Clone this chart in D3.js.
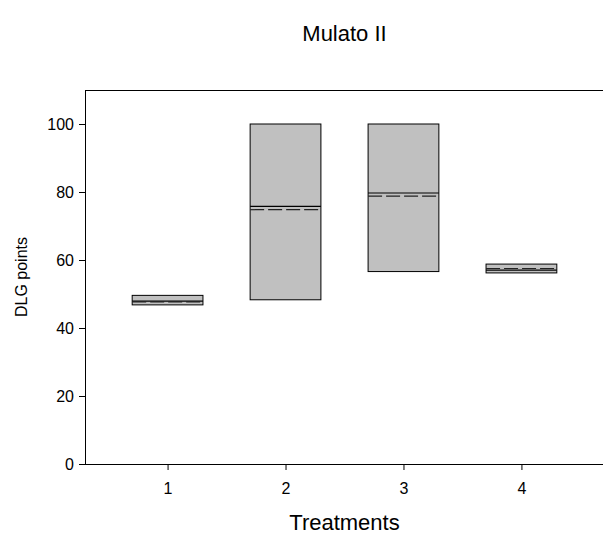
<!DOCTYPE html>
<html>
<head>
<meta charset="utf-8">
<script src="https://cdn.jsdelivr.net/npm/d3@7"></script>
<style>
  body { margin: 0; background: #fff; }
  svg { display: block; }
  text { font-family: "Liberation Sans", Arial, sans-serif; fill: #000; }
</style>
</head>
<body>
<svg id="chart" width="603" height="536"></svg>
<script>
const categories = [1, 2, 3, 4];
const q1 = [46.8, 48.3, 56.6, 56.2];
const q3 = [49.6, 100, 100, 58.8];
const medians = [47.9, 75.8, 79.7, 57.0];
const means = [47.7, 74.8, 78.8, 57.5];
const yTicks = [0, 20, 40, 60, 80, 100];
const title = "Mulato II";
const xLabel = "Treatments";
const yLabel = "DLG points";

(function () {
const svg = d3.select("#chart");
const pL = 85, pR = 604, pT = 90, pB = 464;

const x = d3.scaleLinear().domain([0.3, 4.7]).range([pL, pR]);
const y = d3.scaleLinear().domain([0, 110]).range([pB, pT]);
const boxW = x(1.3) - x(0.7);

// frame top line
svg.append("line").attr("x1", pL).attr("x2", pR).attr("y1", pT + 0.5).attr("y2", pT + 0.5)
  .attr("stroke", "#000").attr("stroke-width", 1);

// boxes
const g = svg.append("g");
categories.forEach((c, i) => {
  const cx = x(c);
  g.append("rect")
    .attr("x", cx - boxW / 2).attr("y", y(q3[i]))
    .attr("width", boxW).attr("height", y(q1[i]) - y(q3[i]))
    .attr("fill", "#c0c0c0").attr("stroke", "#000").attr("stroke-width", 1);
  g.append("line")
    .attr("x1", cx - boxW / 2).attr("x2", cx + boxW / 2)
    .attr("y1", y(medians[i])).attr("y2", y(medians[i]))
    .attr("stroke", "#000").attr("stroke-width", 1.2);
  g.append("line")
    .attr("x1", cx - boxW / 2).attr("x2", cx + boxW / 2)
    .attr("y1", y(means[i])).attr("y2", y(means[i]))
    .attr("stroke", "#222").attr("stroke-width", 1.2)
    .attr("stroke-dasharray", "14,4");
});

// axes
const yAxis = d3.axisLeft(y).tickValues(yTicks).tickSize(6).tickPadding(5).tickFormat(d3.format("d"));
const ya = svg.append("g").attr("transform", `translate(${pL},0)`).call(yAxis);
ya.select(".domain").attr("d", `M0.5,${pT}V${pB}`).attr("stroke", "#000");
ya.selectAll("text").style("font-size", "16px").attr("font-family", "Liberation Sans, Arial, sans-serif");

const xAxis = d3.axisBottom(x).tickValues(categories).tickSize(6).tickPadding(13).tickFormat(d3.format("d"));
const xa = svg.append("g").attr("transform", `translate(0,${pB})`).call(xAxis);
xa.select(".domain").attr("d", `M${pL},0.5H${pR}`).attr("stroke", "#000");
xa.selectAll("text").style("font-size", "16px").attr("font-family", "Liberation Sans, Arial, sans-serif");

// labels
svg.append("text").attr("x", (pL + pR) / 2).attr("y", 41)
  .attr("text-anchor", "middle").style("font-size", "22px").text(title);
svg.append("text").attr("x", (pL + pR) / 2).attr("y", 530)
  .attr("text-anchor", "middle").style("font-size", "22px").text(xLabel);
svg.append("text").attr("transform", `translate(27,${(pT + pB) / 2}) rotate(-90)`)
  .attr("text-anchor", "middle").style("font-size", "16px").text(yLabel);
})();
</script>
</body>
</html>
